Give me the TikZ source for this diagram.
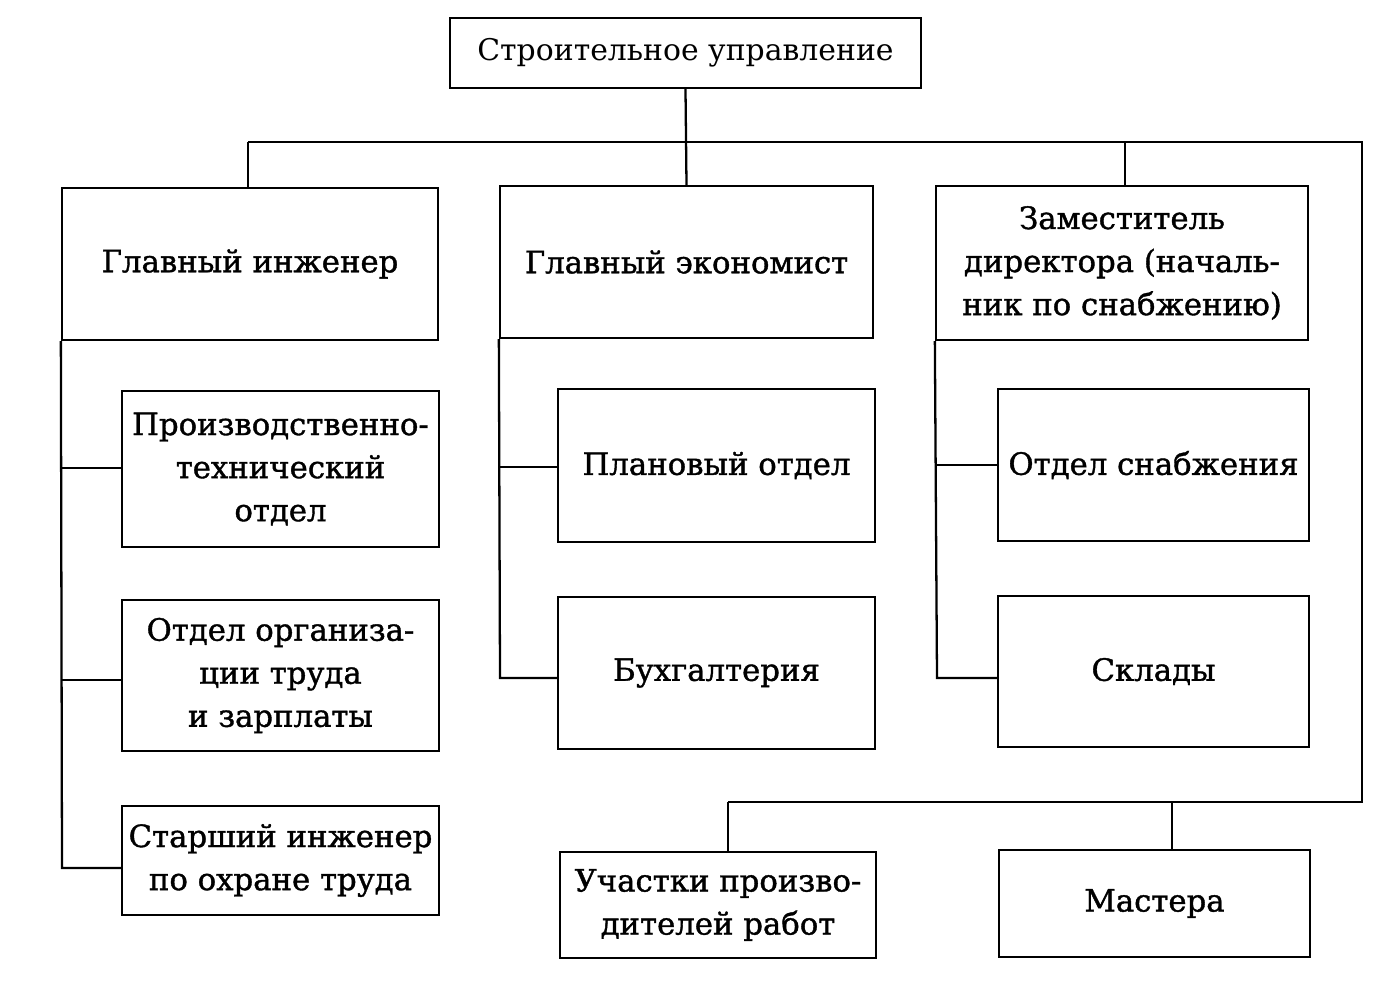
\documentclass[tikz,border=0pt]{standalone}
\usepackage{fontspec}
\setmainfont{DejaVu Serif}
\newfontfamily\boxfont{DejaVu Serif}[FakeBold=1.2]
\usetikzlibrary{positioning}

\begin{document}
\begin{tikzpicture}[x=0.02cm, y=-0.02cm, line width=1.3pt,
    box/.style={draw, align=center, inner sep=0pt,
      font=\boxfont\fontsize{17.5}{24.5}\selectfont},
    line/.style={line width=1.3pt}]

  \useasboundingbox (0,0) rectangle (1400,988);

  % Верхний уровень
  \node[box, minimum width=471*0.02cm, minimum height=70*0.02cm,
        font=\rmfamily\fontsize{17}{24}\selectfont] (SU) at (685.5,53) {Строительное управление};

  % Заместители
  \node[box, minimum width=376*0.02cm, minimum height=152*0.02cm] (GI) at (250,264) {Главный инженер};
  \node[box, minimum width=373*0.02cm, minimum height=152*0.02cm] (GE) at (686.5,262) {Главный экономист};
  \node[box, minimum width=372*0.02cm, minimum height=154*0.02cm] (ZD) at (1122,263)
       {Заместитель\\директора (началь-\\ник по снабжению)};

  % Отделы главного инженера
  \node[box, minimum width=317*0.02cm, minimum height=156*0.02cm] (PTO) at (280.5,469)
       {Производственно-\\технический\\отдел};
  \node[box, minimum width=317*0.02cm, minimum height=151*0.02cm] (OOT) at (280.5,675.5)
       {Отдел организа-\\ции труда\\и зарплаты};
  \node[box, minimum width=317*0.02cm, minimum height=109*0.02cm] (SI) at (280.5,860.5)
       {Старший инженер\\по охране труда};

  % Отделы главного экономиста
  \node[box, minimum width=317*0.02cm, minimum height=153*0.02cm] (PO) at (716.5,465.5) {Плановый отдел};
  \node[box, minimum width=317*0.02cm, minimum height=152*0.02cm] (BU) at (716.5,673) {Бухгалтерия};

  % Отделы заместителя директора
  \node[box, minimum width=311*0.02cm, minimum height=152*0.02cm] (OS) at (1153.5,465) {Отдел снабжения};
  \node[box, minimum width=311*0.02cm, minimum height=151*0.02cm] (SK) at (1153.5,671.5) {Склады};

  % Нижний уровень
  \node[box, minimum width=316*0.02cm, minimum height=106*0.02cm] (UP) at (718,905)
       {Участки произво-\\дителей работ};
  \node[box, minimum width=311*0.02cm, minimum height=107*0.02cm] (MA) at (1154.5,903.5) {Мастера};

  % Опорные точки
  \coordinate (busL) at (248,142);
  \coordinate (busR) at (1362,142);
  \coordinate (busB) at (1362,802);
  \coordinate (busBL) at (728,802);

  % Связи верхнего уровня
  \draw[line] (SU.south) -- (GE.north);
  \draw[line] (busL) -- (busR) -- (busB) -- (busBL);
  \draw[line] (busL) -- (busL |- GI.north);
  \draw[line] (1125,142) -- (1125,186);
  \draw[line] (busBL) -- (busBL |- UP.north);
  \draw[line] (1172,802) -- (1172,850);

  % Левая ветвь
  \draw[line] (GI.south west) -- (62,868) -- (SI.west |- 62,868);
  \draw[line] (62,468) -- (PTO.west |- 62,468);
  \draw[line] (62,680) -- (OOT.west |- 62,680);

  % Средняя ветвь
  \draw[line] (GE.south west) -- (500,678) -- (BU.west |- 500,678);
  \draw[line] (500,467) -- (PO.west |- 500,467);

  % Правая ветвь
  \draw[line] (ZD.south west) -- (937,678) -- (SK.west |- 937,678);
  \draw[line] (937,465) -- (OS.west |- 937,465);
\end{tikzpicture}
\end{document}
